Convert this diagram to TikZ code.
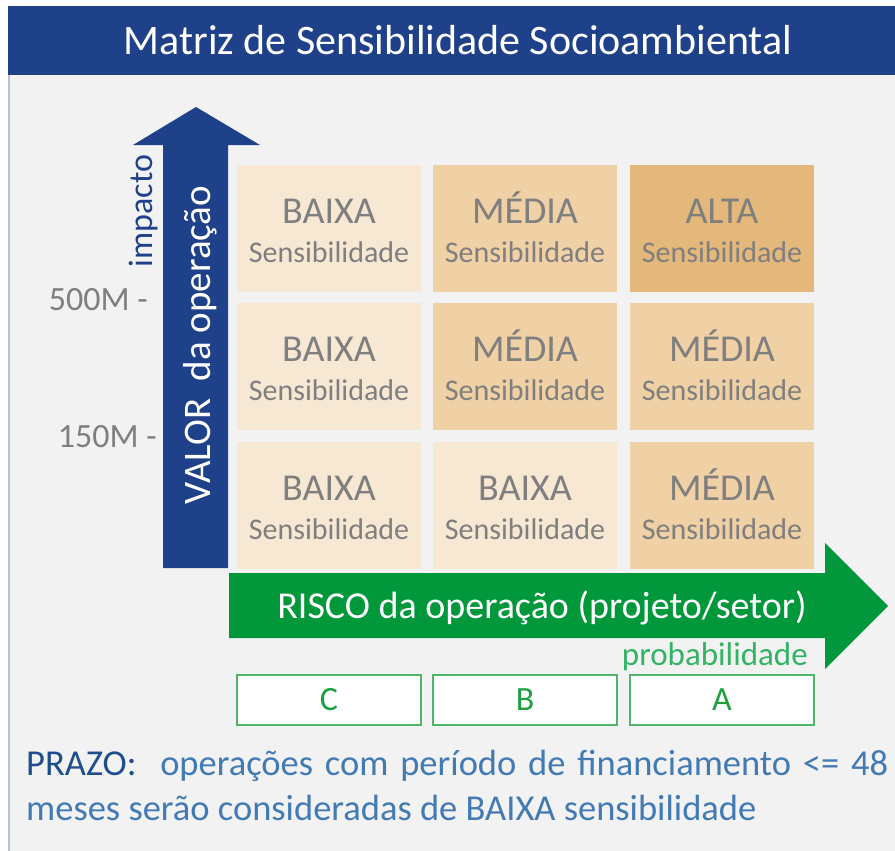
\documentclass[tikz,border=0pt]{standalone}
\usepackage{fontspec}
\setmainfont{Carlito}
\definecolor{barblue}{RGB}{31,65,138}
\definecolor{bggray}{RGB}{242,242,242}
\definecolor{edgeblue}{RGB}{180,192,216}
\definecolor{lowc}{RGB}{247,232,212}
\definecolor{midc}{RGB}{240,208,165}
\definecolor{highc}{RGB}{228,184,122}
\definecolor{cellgray}{RGB}{127,127,127}
\definecolor{riskgreen}{RGB}{0,152,58}
\definecolor{probgreen}{RGB}{51,180,100}
\definecolor{boxgreen}{RGB}{80,180,105}
\definecolor{lettergreen}{RGB}{30,160,65}
\definecolor{prazodark}{RGB}{31,78,140}
\definecolor{prazoblue}{RGB}{66,122,180}
\tikzset{
  cellbox/.style={draw=none, minimum width=184pt, minimum height=127pt, inner sep=0pt},
  bigword/.style={text=cellgray, font=\fontsize{38}{40}\selectfont, inner sep=0pt, anchor=base},
  smallword/.style={text=cellgray, font=\fontsize{30}{32}\selectfont, inner sep=0pt, anchor=base},
  letterbox/.style={draw=boxgreen, line width=1.5pt, fill=white, minimum width=184pt, minimum height=50pt, inner sep=0pt, text=lettergreen, font=\fontsize{34}{36}\selectfont},
  axislabel/.style={text=cellgray, font=\fontsize{34}{36}\selectfont, inner sep=0pt, anchor=base east},
}
\newcommand\mcell[6]{%
  \node[cellbox, fill=#4] (#1) at (#2+92,#3+63.5) {};
  \node[bigword] (#1w) at (#2+92,#3+58) {#5};
  \node[smallword] (#1s) at (#2+92,#3+97) {#6};
}
\begin{document}
\begin{tikzpicture}[x=1pt,y=-1pt]
\useasboundingbox (0,0) rectangle (895,851);
\fill[white] (0,0) rectangle (895,851);
\fill[bggray] (10,75) rectangle (895,851);
\draw[edgeblue, line width=2pt] (9,75) -- (9,851);
% title bar
\node[fill=barblue, minimum width=887pt, minimum height=69pt, inner sep=0pt] (bar) at (451.5,40.5) {};
\node[text=white, font=\fontsize{42}{46}\selectfont, inner sep=0pt, anchor=base] (title) at (458,55) {Matriz de Sensibilidade Socioambiental};
% vertical arrow
\fill[barblue] (163,568) -- (163,145) -- (133,145) -- (196,107) -- (260,145) -- (228,145) -- (228,568) -- cycle;
\node[text=white, font=\fontsize{39}{41}\selectfont, rotate=90, anchor=base, inner sep=0pt] (valor) at (210,345) {VALOR\ \ da operação};
\node[text=barblue, font=\fontsize{34}{36}\selectfont, rotate=90, anchor=base, inner sep=0pt] (impacto) at (152,211) {impacto};
\node[axislabel] (l500) at (148,310) {500M -};
\node[axislabel] (l150) at (157,447) {150M -};
% matrix
\mcell{c11}{237}{165}{lowc}{BAIXA}{Sensibilidade}
\mcell{c12}{433}{165}{midc}{MÉDIA}{Sensibilidade}
\mcell{c13}{630}{165}{highc}{ALTA}{Sensibilidade}
\mcell{c21}{237}{303}{lowc}{BAIXA}{Sensibilidade}
\mcell{c22}{433}{303}{midc}{MÉDIA}{Sensibilidade}
\mcell{c23}{630}{303}{midc}{MÉDIA}{Sensibilidade}
\mcell{c31}{237}{442}{lowc}{BAIXA}{Sensibilidade}
\mcell{c32}{433}{442}{lowc}{BAIXA}{Sensibilidade}
\mcell{c33}{630}{442}{midc}{MÉDIA}{Sensibilidade}
% horizontal arrow
\fill[riskgreen] (229,573) -- (825,573) -- (825,543) -- (888,606) -- (825,669) -- (825,638) -- (229,638) -- cycle;
\node[text=white, font=\fontsize{38}{40}\selectfont, anchor=base, inner sep=0pt] (risco) at (542,618) {RISCO da operação (projeto/setor)};
\node[text=probgreen, font=\fontsize{33}{35}\selectfont, anchor=base east, inner sep=0pt] (prob) at (808,665) {probabilidade};
% letter boxes
\node[letterbox] (bc) at (329,700) {C};
\node[letterbox] (bb) at (525,700) {B};
\node[letterbox] (ba) at (722,700) {A};
% bottom text
\node[anchor=base west, inner sep=0pt, text=prazoblue, font=\fontsize{36.5}{40}\selectfont] (prazo) at (26,775) {\makebox[862pt][s]{\textcolor{prazodark}{PRAZO:}\ \ operações com período de financiamento <= 48}};
\node[anchor=base west, inner sep=0pt, text=prazoblue, font=\fontsize{36.5}{40}\selectfont] (prazo2) at (26,820) {meses serão consideradas de BAIXA sensibilidade};
\end{tikzpicture}
\end{document}
